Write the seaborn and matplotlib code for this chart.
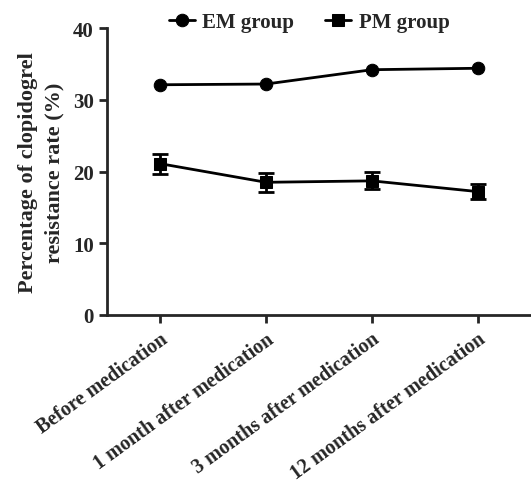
import numpy as np
import pandas as pd
import seaborn as sns
import matplotlib.pyplot as plt

sns.set_style("ticks")
plt.rcParams["font.family"] = ["Liberation Serif", "DejaVu Serif"]
plt.rcParams["font.weight"] = "bold"

timepoints = [
    "Before medication",
    "1 month after medication",
    "3 months after medication",
    "12 months after medication",
]
em_rate = [32.1, 32.2, 34.2, 34.4]
pm_rate = [21.1, 18.5, 18.7, 17.2]
pm_err = [1.4, 1.3, 1.2, 1.0]
groups = ["EM group", "PM group"]

df = pd.DataFrame({
    "timepoint": timepoints * 2,
    "rate": em_rate + pm_rate,
    "group": [groups[0]] * 4 + [groups[1]] * 4,
})

fig = plt.figure(figsize=(5.31, 4.85), dpi=100)
ax = fig.add_axes([0.2015, 0.3485, 0.7985, 0.5915])

pos = {t: i for i, t in enumerate(timepoints)}
df["x"] = df["timepoint"].map(pos)

# only the PM group has visible SE bars
pm = df[df["group"] == "PM group"]
ax.errorbar(pm["x"], pm["rate"], yerr=pm_err, fmt="none",
            ecolor="black", elinewidth=2, capsize=6, capthick=2, zorder=2)

sns.lineplot(data=df, x="x", y="rate", hue="group", style="group",
             markers={"EM group": "o", "PM group": "s"}, dashes=False,
             palette={"EM group": "black", "PM group": "black"},
             markersize=9, linewidth=2, markeredgecolor="black",
             ax=ax, zorder=3)

ax.set_xlim(-0.5, 3.5)
ax.set_ylim(0, 40)
ax.set_yticks([0, 10, 20, 30, 40])
ax.set_xticks(range(len(timepoints)))
ax.set_xticklabels(timepoints, rotation=36, ha="right", rotation_mode="anchor",
                   fontsize=14.5, fontweight="bold")
ax.tick_params(axis="y", labelsize=15, width=2, length=6)
ax.tick_params(axis="x", width=2, length=6, pad=4)
for lab in ax.get_yticklabels():
    lab.set_fontweight("bold")
ax.set_xlabel("")
ax.set_ylabel("Percentage of clopidogrel\nresistance rate (%)", fontsize=16,
              fontweight="bold", labelpad=6, linespacing=1.45)
for s in ["left", "bottom"]:
    ax.spines[s].set_linewidth(2)
sns.despine(ax=ax)

ax.legend(loc="center", bbox_to_anchor=(0.582, 0.953), bbox_transform=fig.transFigure,
          ncol=2, frameon=False, handlelength=1.25, columnspacing=1.5,
          handletextpad=0.35, prop={"weight": "bold", "size": 15})

fig.savefig("out.png", dpi=100)
